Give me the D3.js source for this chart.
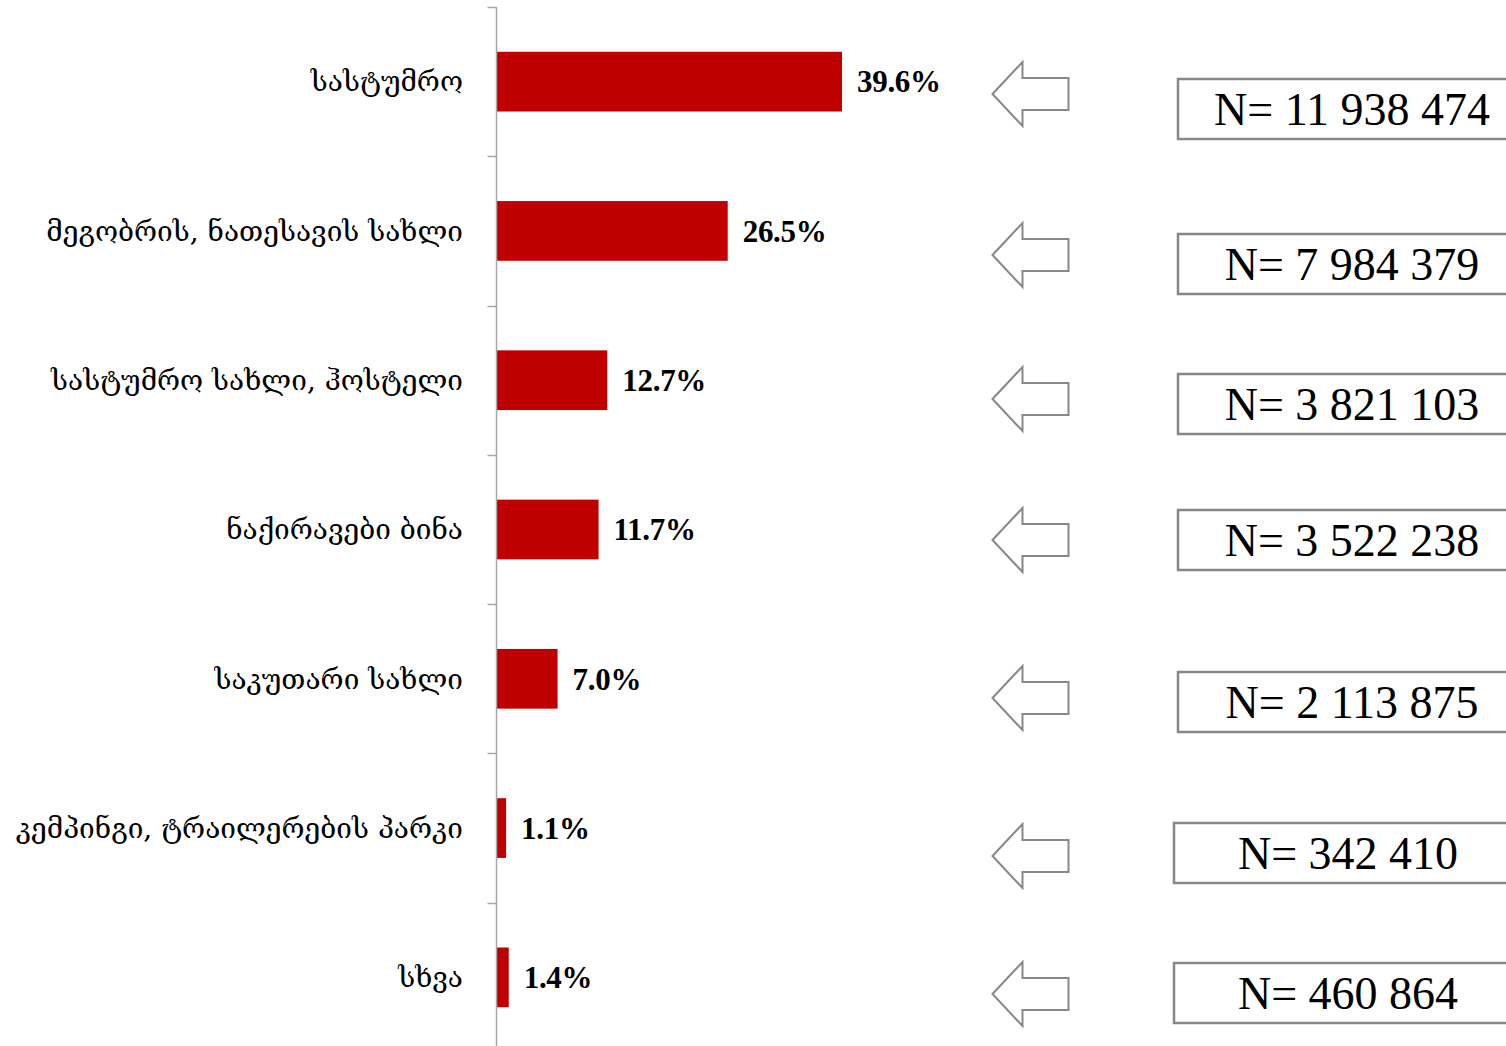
<!DOCTYPE html>
<html>
<head>
<meta charset="utf-8">
<script src="https://cdn.jsdelivr.net/npm/d3@7"></script>
<style>
  html, body { margin: 0; padding: 0; background: #fff; }
  svg { display: block; }
</style>
</head>
<body>
<svg id="chart" width="1506" height="1046"></svg>
<script>
// ---- data ----
const categories = [
  "სასტუმრო",
  "მეგობრის, ნათესავის სახლი",
  "სასტუმრო სახლი, ჰოსტელი",
  "ნაქირავები ბინა",
  "საკუთარი სახლი",
  "კემპინგი, ტრაილერების პარკი",
  "სხვა"
];
const shares = [39.6, 26.5, 12.7, 11.7, 7.0, 1.1, 1.4];
const counts = ["11 938 474", "7 984 379", "3 821 103", "3 522 238", "2 113 875", "342 410", "460 864"];

// ---- layout (annotation placement, pixels) ----
const arrowCenterY = [94, 255, 399, 540, 698, 856, 994];
const boxTopY = [79, 234, 374, 510, 672, 823, 963];
const boxLeftX = [1178, 1178, 1178, 1178, 1178, 1174, 1174];

const svg = d3.select("#chart");
const axisX = 496.5;

const y = d3.scaleBand()
  .domain(categories)
  .range([7, 1052])
  .paddingInner(0.6)
  .paddingOuter(0.3);

const x = d3.scaleLinear()
  .domain([0, 39.6])
  .range([axisX, 842]);

// bars
svg.selectAll("rect.bar")
  .data(categories)
  .join("rect")
  .attr("class", "bar")
  .attr("x", x(0))
  .attr("y", d => y(d))
  .attr("width", (d, i) => x(shares[i]) - x(0))
  .attr("height", y.bandwidth())
  .attr("fill", "#c00000");

// axis
const axis = d3.axisLeft(y).tickSize(0).tickFormat("");
const gAxis = svg.append("g").attr("transform", `translate(${axisX},0)`).call(axis);
gAxis.select(".domain").attr("stroke", "#a6a6a6").attr("stroke-width", 1.5).attr("d", "M0,7V1052");

// tick marks between categories
const boundaries = d3.range(categories.length + 1).map(i => 7 + i * (1045 / categories.length));
gAxis.selectAll("line.sep")
  .data(boundaries)
  .join("line")
  .attr("class", "sep")
  .attr("x1", -9).attr("x2", 0)
  .attr("y1", d => Math.round(d) + 0.5).attr("y2", d => Math.round(d) + 0.5)
  .attr("stroke", "#a6a6a6").attr("stroke-width", 1.5);

// category labels
svg.selectAll("text.cat")
  .data(categories)
  .join("text")
  .attr("class", "cat")
  .attr("x", 463)
  .attr("y", d => y(d) + y.bandwidth() / 2)
  .attr("dy", "0.35em")
  .attr("text-anchor", "end")
  .attr("font-family", "'DejaVu Serif', 'Noto Sans', serif")
  .attr("font-size", 28)
  .attr("fill", "#000")
  .text(d => d);

// value labels
svg.selectAll("text.val")
  .data(categories)
  .join("text")
  .attr("class", "val")
  .attr("x", (d, i) => x(shares[i]) + 15)
  .attr("y", d => y(d) + y.bandwidth() / 2)
  .attr("dy", "0.35em")
  .attr("font-family", "'Liberation Serif', serif")
  .attr("font-size", 31)
  .attr("font-weight", "bold")
  .attr("letter-spacing", -0.3)
  .attr("fill", "#000")
  .text((d, i) => shares[i].toFixed(1) + "%");

// arrows
const arrowShape = (cy) => {
  const tipX = 992.5, headX = 1022.5, endX = 1068.5;
  const hh = 32, sh = 16;
  return `M${tipX},${cy} L${headX},${cy - hh} L${headX},${cy - sh} L${endX},${cy - sh} L${endX},${cy + sh} L${headX},${cy + sh} L${headX},${cy + hh} Z`;
};
svg.selectAll("path.arrow")
  .data(arrowCenterY)
  .join("path")
  .attr("class", "arrow")
  .attr("d", d => arrowShape(d))
  .attr("fill", "#fff")
  .attr("stroke", "#878787")
  .attr("stroke-width", 2);

// N boxes
const gBox = svg.selectAll("g.nbox")
  .data(counts)
  .join("g")
  .attr("class", "nbox");
gBox.append("rect")
  .attr("x", (d, i) => boxLeftX[i])
  .attr("y", (d, i) => boxTopY[i])
  .attr("width", 350)
  .attr("height", 60)
  .attr("fill", "#fff")
  .attr("stroke", "#878787")
  .attr("stroke-width", 2.5);
gBox.append("text")
  .attr("x", (d, i) => boxLeftX[i] + 174)
  .attr("y", (d, i) => boxTopY[i] + 30)
  .attr("dy", "0.35em")
  .attr("text-anchor", "middle")
  .attr("font-family", "'Liberation Serif', serif")
  .attr("font-size", 46)
  .attr("fill", "#000")
  .text(d => "N= " + d);
</script>
</body>
</html>
